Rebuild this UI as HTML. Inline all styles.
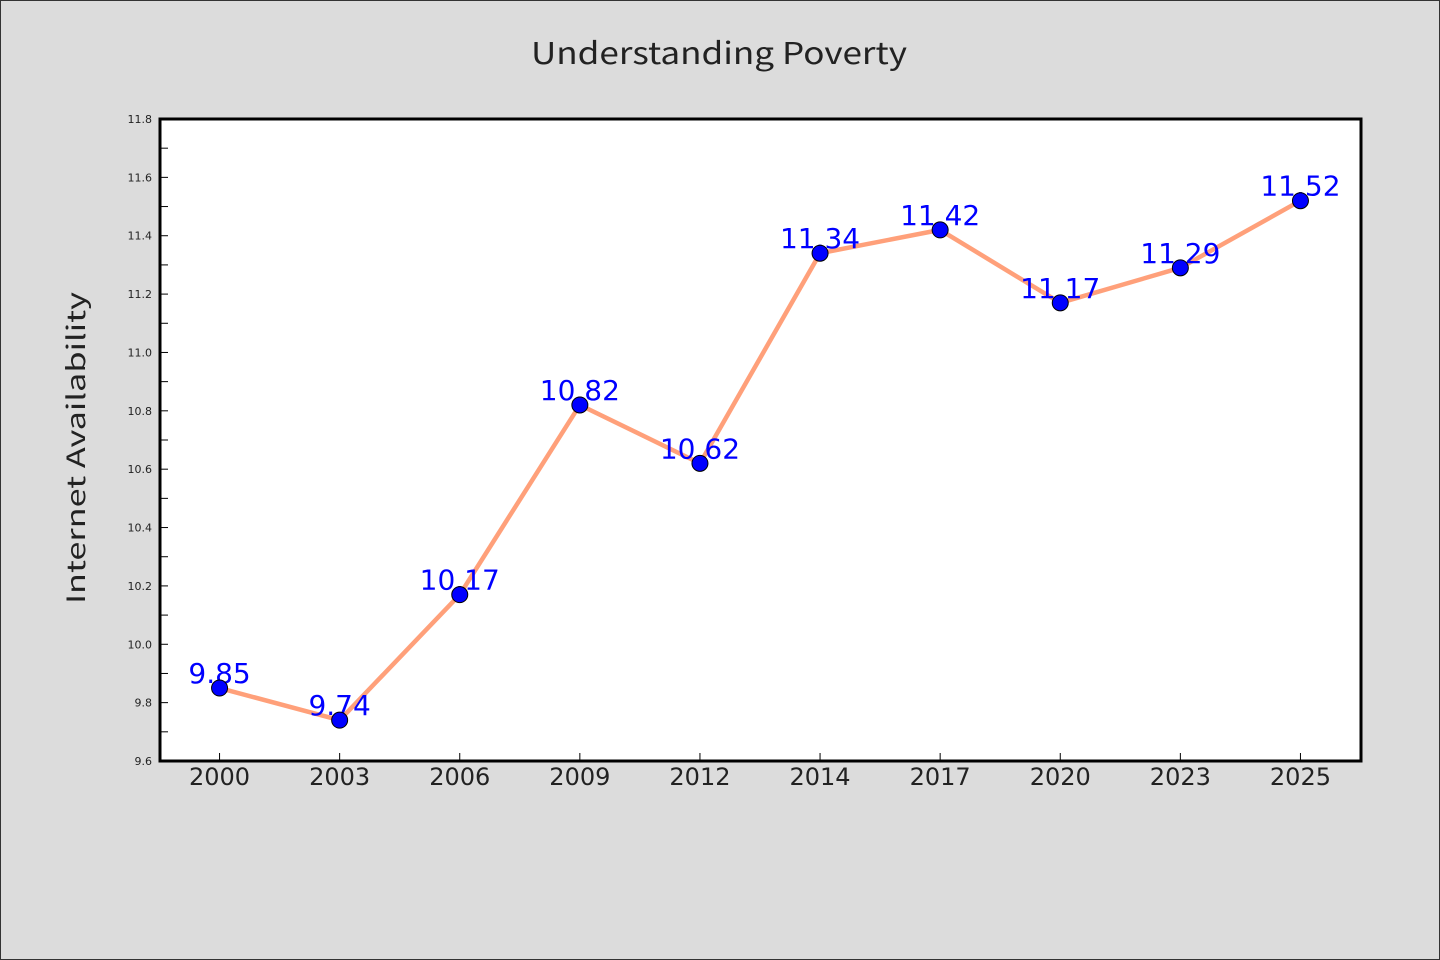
<!DOCTYPE html>
<html><head><meta charset="utf-8"><style>
html,body{margin:0;padding:0;background:#dcdcdc;}
svg{display:block;}
</style></head><body>
<svg id="chart" width="1440" height="960" xmlns="http://www.w3.org/2000/svg">
<rect x="0.5" y="0.5" width="1439" height="959" fill="#dcdcdc" stroke="#333" stroke-width="1"/>
<text x="719" y="64" text-anchor="middle" font-family="'WenQuanYi Zen Hei', 'Noto Sans CJK SC', 'Liberation Sans', sans-serif" font-size="30" textLength="376" lengthAdjust="spacingAndGlyphs" fill="#222">Understanding Poverty</text>
<rect x="160" y="119" width="1201" height="642" fill="#fff"/>
<g id="axes"></g>
<text transform="translate(85,448) rotate(-90)" text-anchor="middle" font-family="'WenQuanYi Zen Hei', 'Noto Sans CJK SC', 'Liberation Sans', sans-serif" font-size="25" textLength="312" lengthAdjust="spacingAndGlyphs" fill="#222">Internet Availability</text>
<g id="series"></g>
<rect x="160" y="119" width="1201" height="642" fill="none" stroke="#000" stroke-width="3"/>
</svg>
<script>
const categories = ["2000","2003","2006","2009","2012","2014","2017","2020","2023","2025"];
const values = [9.85,9.74,10.17,10.82,10.62,11.34,11.42,11.17,11.29,11.52];
const yTickLabels = ["9.6","9.8","10.0","10.2","10.4","10.6","10.8","11.0","11.2","11.4","11.6","11.8"];
const yMin = 9.6, yMax = 11.8;
const L = 160, T = 119, W = 1201, H = 642;
const NS = "http://www.w3.org/2000/svg";
function xPos(i){ return L + (W/categories.length)*(i+0.5) - 0.5; }
function yPos(v){ return T + H - (v - yMin)/(yMax - yMin)*H; }
function mk(tag, attrs, parent){ const e=document.createElementNS(NS,tag); for(const k in attrs) e.setAttribute(k,attrs[k]); parent.appendChild(e); return e; }
const axes = document.getElementById('axes');
const series = document.getElementById('series');
for(let k=0;k<=22;k++){
  const v = yMin + k*0.1;
  const y = yPos(v);
  const major = k%2===0;
  const t = mk('line',{x1:L,x2:L+8,y1:y,y2:y,stroke:'#000','stroke-width':1},axes);
  
  
}
yTickLabels.forEach(function(lab){
  const y = yPos(parseFloat(lab));
  const tx = mk('text',{x:L-8,y:y+4,'text-anchor':'end','font-family':"'DejaVu Sans','Liberation Sans',sans-serif",'font-size':11,fill:'#222'},axes);
  tx.textContent = lab;
  
  
});
categories.forEach(function(c,i){
  const x = xPos(i);
  const t = mk('line',{x1:x,x2:x,y1:T+H,y2:T+H-8,stroke:'#000','stroke-width':1},axes);
  
  
  const tx = mk('text',{x:x,y:785,'text-anchor':'middle','font-family':"'DejaVu Sans','Liberation Sans',sans-serif",'font-size':24,fill:'#222'},axes);
  tx.textContent = c;
  
  
});
const pts = values.map(function(v,i){ return xPos(i)+','+yPos(v); }).join(' ');
const line = mk('polyline',{points:pts,fill:'none',stroke:'#FFA07A','stroke-width':4.5,'stroke-linejoin':'round'},series);


values.forEach(function(v,i){
  const tx = mk('text',{x:xPos(i),y:yPos(v)-5,'text-anchor':'middle','font-family':"'DejaVu Sans','Liberation Sans',sans-serif",'font-size':28,fill:'#0000ff'},series);
  tx.textContent = v.toFixed(2);
  
  
});
values.forEach(function(v,i){
  const c = mk('circle',{cx:xPos(i),cy:yPos(v),r:8,fill:'#0000ff',stroke:'#000','stroke-width':1},series);
  
  
});
</script>
</body></html>
